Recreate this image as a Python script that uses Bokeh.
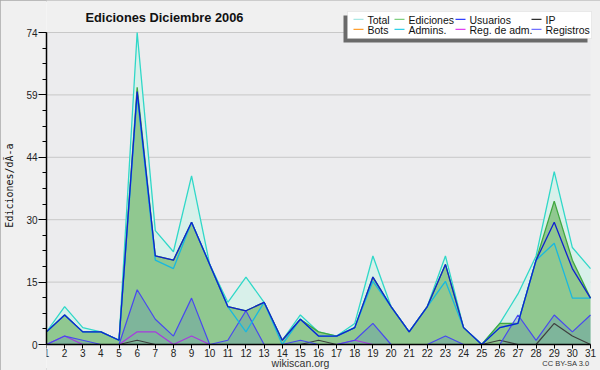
from bokeh.plotting import figure
from bokeh.models import (Range1d, FixedTicker, CustomJSTickFormatter, Label,
                          BoxAnnotation, ColumnDataSource)
from bokeh.embed import file_html
from bokeh.resources import INLINE

# ---- data ----
days = list(range(1, 32))
total = [3, 9, 4, 3, 1, 74, 27, 22, 40, 19, 10, 16, 10, 1, 7, 3, 2, 5, 21, 9, 3, 9, 21, 4, 0, 5, 12, 21, 41, 23, 18]
ediciones = [3, 7, 3, 3, 1, 61, 21, 20, 29, 19, 9, 8, 10, 1, 6, 3, 2, 4, 16, 9, 3, 9, 19, 4, 0, 5, 5, 20, 34, 20, 11]
usuarios = [3, 7, 3, 3, 1, 60, 21, 20, 29, 19, 9, 8, 10, 1, 6, 2, 2, 4, 16, 9, 3, 9, 19, 4, 0, 4, 5, 20, 29, 18, 11]
ip = [0, 0, 0, 0, 0, 1, 0, 0, 0, 0, 0, 0, 0, 0, 0, 1, 0, 0, 0, 0, 0, 0, 0, 0, 0, 1, 0, 0, 5, 2, 0]
bots = [0] * 31
admins = [3, 7, 3, 3, 1, 59, 20, 18, 29, 19, 9, 3, 10, 0, 6, 2, 2, 4, 15, 9, 3, 9, 15, 4, 0, 4, 5, 20, 24, 11, 11]
reg_adm = [0, 2, 0, 0, 0, 3, 3, 0, 2, 0, 0, 0, 0, 0, 0, 0, 0, 1, 0, 0, 0, 0, 0, 0, 0, 0, 0, 0, 0, 0, 0]
registros = [0, 2, 1, 0, 0, 13, 6, 2, 11, 0, 1, 8, 0, 0, 1, 0, 0, 1, 5, 0, 0, 0, 2, 0, 0, 0, 7, 1, 7, 3, 7]

y_max = 74
y_major = [0, 14.8, 29.6, 44.4, 59.2, 74]
y_minor = [i * 3.7 for i in range(21)]

title_text = "Ediciones  Diciembre 2006"
y_label = "Ediciones/dÃ-a"

legend_rows = [
    [("Total", "#a8e8e4"), ("Ediciones", "#80d080"), ("Usuarios", "#3040ff"), ("IP", "#303030")],
    [("Bots", "#ffa030"), ("Admins.", "#30d0e8"), ("Reg. de adm.", "#e040f0"), ("Registros", "#7070ff")],
]

src = ColumnDataSource(dict(day=days, total=total, ediciones=ediciones, usuarios=usuarios,
                            ip=ip, bots=bots, admins=admins, reg_adm=reg_adm,
                            registros=registros, zero=[0] * 31))

# frame spans the full figure height and reaches the right edge;
# value 0 sits 26px above the bottom, 74 sits 32px below the top, day 31 sits 10px from the right
W, H = 600, 370
left_pad = 46
top_pad, bot_pad, right_pad = 32, 26, 10
px_per_unit = (H - top_pad - bot_pad) / y_max
y_lo = -bot_pad / px_per_unit
y_hi = y_max + top_pad / px_per_unit
px_per_day = (W - left_pad - right_pad) / (days[-1] - days[0])
x_hi = days[-1] + right_pad / px_per_day

p = figure(width=W, height=H, output_backend="svg", toolbar_location=None,
           title=None, x_range=Range1d(days[0], x_hi), y_range=Range1d(y_lo, y_hi),
           min_border_left=left_pad, min_border_right=0, min_border_top=0, min_border_bottom=0)
p.styles = {"outline": "2px solid #a8a8a8", "outline-offset": "-2px"}
p.background_fill_color = "#f0f0f0"
p.border_fill_color = "#f0f0f0"
p.outline_line_color = None

# plot area background and grid lines
p.quad(left=days[0], right=days[-1], bottom=0, top=y_max, fill_color="#ececee", line_color=None)
p.segment(x0=[days[0]] * 5, x1=[days[-1]] * 5, y0=y_major[1:], y1=y_major[1:],
          line_color="#c8c8c8", line_width=1)

# areas
p.varea(x="day", y1="zero", y2="total", source=src, fill_color="#d8f0ea")
p.line(x="day", y="total", source=src, line_color="#30d8c8", line_width=1.3)
p.varea(x="day", y1="zero", y2="ediciones", source=src, fill_color="#90c890")
p.line(x="day", y="ediciones", source=src, line_color="#40a840", line_width=1.3)
p.varea(x="day", y1="zero", y2="registros", source=src, fill_color="#5b8fb5", fill_alpha=0.32)

# lines
p.line(x="day", y="bots", source=src, line_color="#ffa030", line_width=1.2)
p.line(x="day", y="ip", source=src, line_color="#404040", line_width=1.2)
p.line(x="day", y="reg_adm", source=src, line_color="#a838e0", line_width=1.2)
p.line(x="day", y="registros", source=src, line_color="#4848f0", line_width=1.2)
p.line(x="day", y="admins", source=src, line_color="#18b8e0", line_width=1.3)
p.line(x="day", y="usuarios", source=src, line_color="#1020d0", line_width=1.3)

# axes
p.xaxis.fixed_location = 0
p.xaxis.bounds = (days[0], days[-1])
p.xaxis.ticker = FixedTicker(ticks=days)
p.xaxis.major_tick_out = 4
p.xaxis.major_tick_in = 0
p.xaxis.minor_tick_line_color = None
p.xaxis.major_label_standoff = 0
p.xaxis.major_label_text_font = "Liberation Sans"
p.xaxis.major_label_text_font_size = "10px"
p.xaxis.major_label_text_color = "#222222"
p.xaxis.axis_line_color = "#000000"
p.xaxis.axis_line_width = 1.5

p.yaxis.bounds = (0, y_max)
p.yaxis.ticker = FixedTicker(ticks=y_major, minor_ticks=y_minor)
p.yaxis.formatter = CustomJSTickFormatter(code="return Math.round(tick).toString();")
p.yaxis.major_tick_out = 8
p.yaxis.major_tick_in = 0
p.yaxis.minor_tick_out = 4
p.yaxis.minor_tick_in = 0
p.yaxis.major_label_standoff = 1
p.yaxis.major_label_text_font = "Liberation Sans"
p.yaxis.major_label_text_font_size = "10px"
p.yaxis.major_label_text_color = "#222222"
p.yaxis.axis_line_color = "#000000"
p.yaxis.axis_line_width = 1.5
p.yaxis.axis_label = y_label
p.yaxis.axis_label_text_font = "DejaVu Sans Mono"
p.yaxis.axis_label_text_font_size = "10px"
p.yaxis.axis_label_text_font_style = "normal"
p.yaxis.axis_label_text_color = "#111111"
p.yaxis.axis_label_standoff = 8

p.xgrid.visible = False
p.ygrid.visible = False

def scr(**kw):
    return dict(left_units="screen", right_units="screen", top_units="screen",
                bottom_units="screen", **kw)

# title and footer (frame-relative screen coordinates: x from frame left, y up from bottom)
p.add_layout(Label(x=39, y=353, x_units="screen", y_units="screen", text=title_text,
                   text_font="Liberation Sans", text_font_style="bold", text_font_size="12.8px",
                   text_baseline="middle", text_color="#111111"))
p.add_layout(Label(x=254, y=8, x_units="screen", y_units="screen", text="wikiscan.org",
                   text_font="Liberation Sans", text_font_size="10.5px", text_align="center",
                   text_baseline="middle", text_color="#333333"))
p.add_layout(Label(x=543, y=7, x_units="screen", y_units="screen", text="CC BY-SA 3.0",
                   text_font="Liberation Sans", text_font_size="7.5px", text_align="right",
                   text_baseline="middle", text_color="#333333"))

# legend box with shadow
p.add_layout(BoxAnnotation(**scr(left=297, right=541, bottom=328, top=355,
                                 fill_color="#6a6a6a", fill_alpha=1, line_color=None, level="overlay")))
p.add_layout(BoxAnnotation(**scr(left=301, right=545, bottom=332, top=359,
                                 fill_color="#ffffff", fill_alpha=1, line_color="#c8c8c8",
                                 line_width=1, level="overlay")))
col_x = [321, 362, 423, 499]
row_y = [351, 341]
for r, row in enumerate(legend_rows):
    for c, (name, color) in enumerate(row):
        tx = col_x[c]
        ty = row_y[r]
        p.add_layout(BoxAnnotation(**scr(left=tx - 14, right=tx - 4, bottom=ty - 0.5, top=ty + 0.8,
                                         fill_color=color, fill_alpha=1, line_color=None,
                                         level="overlay")))
        p.add_layout(Label(x=tx, y=ty, x_units="screen", y_units="screen", text=name,
                           text_font="Liberation Sans", text_font_size="10.5px",
                           text_baseline="middle", text_color="#111111", level="overlay"))

open("out.html", "w").write(file_html(p, INLINE))
